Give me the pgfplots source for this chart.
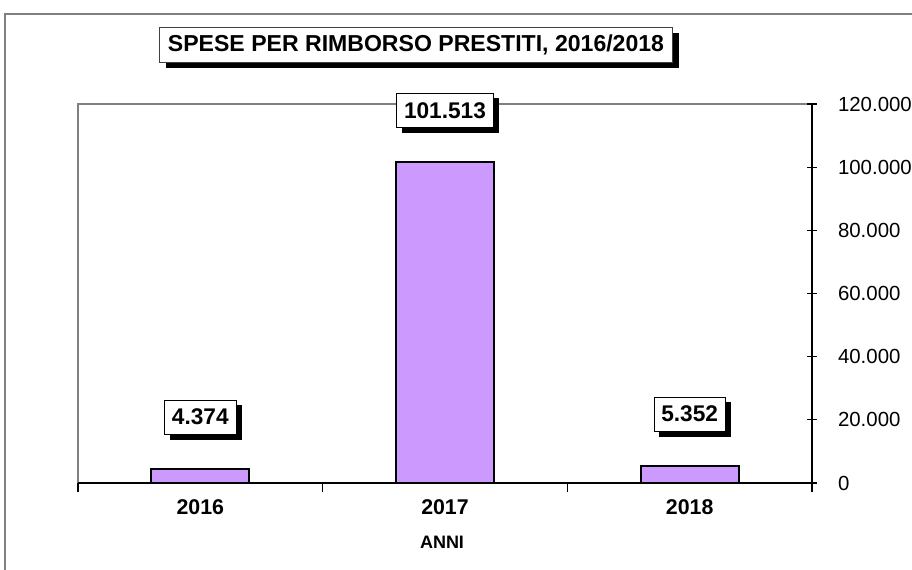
\documentclass[border=0pt]{standalone}
\usepackage{pgfplots}
\pgfplotsset{compat=1.18}
\usepackage{fontspec}
\setmainfont{Liberation Sans}
\usetikzlibrary{shadows}
\definecolor{barpurple}{HTML}{CC99FF}
\definecolor{framegray}{HTML}{808080}

\begin{document}
\begin{tikzpicture}[x=1pt,y=1pt]
\path[use as bounding box] (-58.5,-64.5) rectangle (625.5,362.25);
% outer chart frame (extends past the picture on right and bottom)
\draw[framegray, line width=1.5pt] (-54.75,-80) -- (-54.75,351.75) -- (660,351.75);
% plot area border (left and top)
\draw[framegray, line width=1.2pt] (0,0) -- (0,284.25) -- (550.5,284.25);
\begin{axis}[
  at={(0,0)}, anchor=south west, scale only axis,
  width=550.5pt, height=284.25pt,
  xmin=-0.5, xmax=2.5, ymin=0, ymax=120000,
  axis x line*=bottom, axis y line*=right,
  axis line style={-, black, line width=1pt},
  ybar, bar width=73.5pt,
  clip=false,
  scaled y ticks=false,
  xtick={-0.5,0.5,1.5,2.5}, xticklabels={},
  extra x ticks={0,1,2}, extra x tick labels={2016,2017,2018},
  extra x tick style={major tick length=0pt},
  xtick align=outside,
  ytick={0,20000,40000,60000,80000,100000,120000},
  ytick align=center,
  major tick length=7pt,
  tick style={black, line width=0.8pt},
  xticklabel style={font=\bfseries\fontsize{16}{18}\selectfont, yshift=-9pt},
  yticklabel style={font=\fontsize{15.3}{17}\selectfont, anchor=west, xshift=12.5pt,
    /pgf/number format/.cd, 1000 sep={.}, fixed, precision=0, assume math mode=true},
  nodes near coords,
  every node near coord/.append style={font=\bfseries\fontsize{17}{19}\selectfont,
    /pgf/number format/.cd, 1000 sep={.}, fixed, precision=0, assume math mode=true,
    /tikz/.cd,
    fill=white, draw=black, line width=0.6pt,
    drop shadow={shadow xshift=4pt, shadow yshift=-4pt, fill=black, opacity=1},
    inner xsep=5.5pt, minimum height=25.5pt, anchor=center, yshift=39pt},
]
\addplot[fill=barpurple, draw=black, line width=1.5pt] coordinates {(0,4374) (1,101513) (2,5352)};
\end{axis}
\node[draw=black!75, fill=white, line width=0.6pt,
  drop shadow={shadow xshift=4.5pt, shadow yshift=-4.5pt, fill=black, opacity=1},
  minimum width=384.75pt, minimum height=26.25pt,
  font=\bfseries\fontsize{17.3}{20}\selectfont] at (253.5,328.9) {SPESE PER RIMBORSO PRESTITI, 2016/2018};
\node[font=\bfseries\fontsize{13.5}{15}\selectfont] at (273,-44.25) {ANNI};
\end{tikzpicture}
\end{document}
